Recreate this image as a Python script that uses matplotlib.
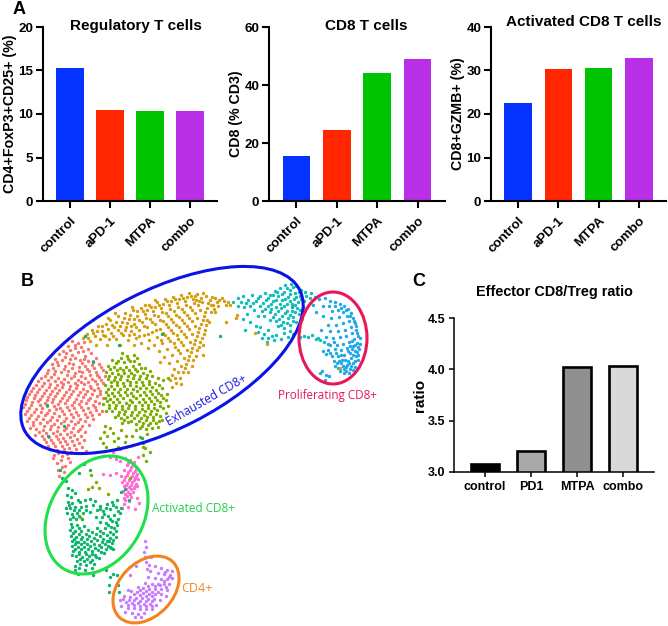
import matplotlib
matplotlib.use('Agg')
import matplotlib.pyplot as plt
from matplotlib.patches import Ellipse

W, H = 668, 626
plt.rcParams['font.family'] = ['Liberation Sans', 'DejaVu Sans']

# -------------------------
# DATA
# -------------------------
GROUPS_A = ['control', 'aPD-1', 'MTPA', 'combo']
GROUPS_C = ['control', 'PD1', 'MTPA', 'combo']
TREG = [15.3, 10.5, 10.4, 10.4]
CD8 = [15.4, 24.5, 44.0, 49.0]
ACTIVATED = [22.6, 30.3, 30.6, 32.8]
RATIO = [3.08, 3.20, 4.02, 4.03]

# scatter points (embedding units = reference pixels)
SALMON = [(72,341),(78,343),(84,342),(68,346),(75,348),(81,347),(88,349),(63,351),(59,354),(66,353),(72,355),(78,352),
    (85,356),(91,353),(96,358),(70,359),(80,360),(62,360),(55,359),(88,361),(52,364),(58,365),(65,366),(73,364),(79,367),
    (85,366),(92,365),(99,364),(48,370),(55,371),(61,372),(68,371),(75,373),(82,372),(89,371),(96,372),(103,370),(45,376),
    (51,377),(58,378),(64,379),(71,378),(78,380),(85,378),(92,379),(99,377),(105,376),(38,381),(44,383),(50,384),(57,385),
    (63,384),(70,386),(77,385),(84,384),(90,386),(97,384),(103,383),(33,388),(39,389),(46,390),(52,391),(59,390),(66,392),
    (73,391),(80,392),(87,391),(94,390),(100,391),(29,394),(35,395),(42,396),(48,397),(55,396),(62,398),(69,397),(76,399),
    (83,397),(90,398),(97,396),(103,398),(26,400),(32,402),(38,401),(45,403),(52,402),(58,404),(65,403),(72,405),(79,404),
    (86,403),(93,405),(99,403),(23,407),(29,408),(36,409),(42,408),(49,410),(56,409),(62,411),(69,410),(76,412),(83,410),
    (90,412),(96,410),(102,411),(25,414),(31,415),(38,416),(45,415),(52,417),(59,416),(66,418),(73,417),(80,419),(87,417),
    (93,419),(27,421),(33,422),(40,423),(47,422),(54,424),(61,423),(68,425),(75,424),(82,426),(89,425),(30,428),(36,429),
    (43,430),(50,429),(57,431),(64,430),(71,432),(78,431),(85,432),(35,435),(42,436),(49,437),(56,436),(63,438),(70,437),
    (77,439),(84,440),(46,442),(53,443),(60,442),(67,444),(74,445),(82,447),(50,449),(57,450),(64,449),(71,452),(78,453),
    (54,455),(62,456),(68,458),(86,451),(53,458),(57,463),(62,467),(58,470),(65,466),(70,462),(61,460),(59,476),(64,472)]
SALMON_2 = [(75,345),(70,350),(83,351),(65,357),(75,358),(84,359),(93,361),(57,362),(69,363),(82,363),(53,368),(64,369),
    (72,368),(79,371),(87,369),(94,368),(101,367),(47,373),(54,374),(67,375),(74,376),(81,376),(90,375),(97,375),(41,378),
    (48,380),(55,381),(61,382),(68,382),(75,383),(81,382),(88,382),(95,381),(101,380),(36,385),(42,386),(49,387),(55,388),
    (62,387),(69,389),(76,388),(83,389),(91,388),(98,388),(31,391),(37,392),(44,393),(50,394),(57,393),(64,395),(71,394),
    (78,395),(85,394),(92,394),(100,394),(27,397),(34,398),(40,399),(47,400),(53,399),(60,401),(67,400),(74,402),(81,401),
    (88,400),(95,401),(25,404),(31,405),(40,405),(47,406),(54,406),(60,408),(67,407),(74,408),(81,407),(88,408),(95,407),
    (27,411),(34,412),(41,412),(47,413),(54,413),(64,414),(71,414),(78,415),(85,414),(92,415),(99,414),(29,418),(36,419),
    (43,419),(50,420),(57,420),(64,421),(71,421),(78,422),(85,421),(33,425),(44,426),(51,426),(58,427),(66,428),(73,428),
    (80,429),(39,432),(46,433),(53,433),(60,434),(67,434),(74,435),(81,436),(44,439),(51,440),(58,439),(65,441),(72,441),
    (79,443),(48,446),(55,446),(62,446),(69,448),(76,449),(67,454),(58,453)]
GOLD = [(83,338),(87,334),(92,330),(95,336),(90,341),(98,326),(102,331),(106,324),(100,339),(96,345),(105,336),(110,320),
    (114,327),(111,333),(118,316),(122,322),(118,330),(107,345),(125,313),(129,319),(126,327),(123,335),(116,339),(133,310),
    (137,316),(134,324),(131,331),(128,340),(141,308),(145,314),(142,322),(139,330),(136,338),(149,305),(153,311),(150,319),
    (147,327),(144,335),(141,343),(157,302),(161,308),(158,316),(155,324),(152,332),(149,340),(165,299),(169,305),(166,313),
    (163,321),(160,329),(157,337),(154,345),(173,297),(177,303),(174,311),(171,319),(168,327),(165,335),(162,343),(159,351),
    (181,295),(185,301),(182,309),(179,317),(176,325),(173,333),(170,341),(167,349),(164,357),(189,293),(193,299),(190,307),
    (187,315),(184,323),(181,331),(178,339),(175,347),(172,355),(169,363),(197,294),(201,298),(198,305),(195,313),(192,321),
    (189,329),(186,337),(183,345),(180,353),(177,361),(174,369),(206,296),(210,300),(207,308),(204,316),(201,324),(198,332),
    (195,340),(192,348),(189,356),(186,364),(183,372),(180,378),(176,383),(172,387),(215,298),(219,300),(224,301),(228,302),
    (213,305),(218,306),(211,312),(207,320),(205,330),(202,338),(199,347),(196,356),(192,366),(188,372),(203,345),(209,322),
    (215,312),(226,322),(236,318),(230,305),(120,345),(134,345),(148,348),(160,362),(172,375),(203,355)]
GOLD_2 = [(88,338),(93,333),(97,331),(102,326),(103,335),(108,329),(112,325),(109,339),(113,336),(116,322),(120,326),(124,318),
    (127,323),(121,333),(125,330),(130,315),(134,319),(131,326),(129,335),(137,311),(139,320),(136,327),(134,334),(143,311),
    (147,310),(146,318),(144,326),(139,336),(151,307),(155,307),(154,315),(152,322),(148,334),(159,305),(163,304),(162,312),
    (160,320),(156,330),(167,301),(171,301),(170,309),(168,316),(166,324),(163,333),(161,340),(175,299),(179,299),(178,307),
    (176,315),(173,322),(171,330),(168,338),(183,298),(187,297),(186,305),(184,312),(182,320),(179,327),(177,335),(174,343),
    (191,296),(195,296),(194,303),(192,310),(189,318),(187,326),(184,334),(181,342),(178,350),(199,301),(203,293),(202,302),
    (200,310),(197,318),(195,326),(192,334),(190,342),(187,350),(184,358),(181,366),(208,303),(212,297),(211,305),(205,312),
    (203,320),(199,328),(197,336),(194,344),(191,352),(188,360),(185,368),(178,372),(217,302),(222,298),(226,305),(214,309),
    (206,325),(204,334),(200,342),(197,350),(193,360),(175,378),(181,384),(170,380),(196,300),(155,300),(145,305),(132,307),
    (115,313),(108,318)]
OLIVE = [(122,353),(127,356),(134,355),(112,360),(118,361),(124,362),(130,361),(137,358),(108,366),(114,367),(120,368),
    (126,367),(133,366),(139,364),(145,368),(106,372),(112,373),(118,374),(124,373),(131,373),(137,371),(143,373),(150,371),
    (108,379),(114,380),(120,379),(127,380),(133,378),(139,379),(146,378),(152,376),(158,378),(105,385),(111,386),(117,385),
    (124,386),(130,385),(136,386),(143,385),(149,384),(155,383),(163,380),(168,378),(106,392),(112,393),(118,392),(125,392),
    (131,393),(137,391),(144,392),(150,391),(156,390),(162,388),(105,398),(110,399),(117,399),(123,398),(130,400),(136,398),
    (143,399),(149,398),(155,397),(161,395),(167,394),(103,404),(109,405),(116,405),(122,406),(129,405),(135,406),(142,405),
    (148,405),(154,404),(160,402),(166,400),(106,411),(112,411),(119,412),(125,411),(132,412),(139,412),(145,411),(151,411),
    (157,410),(163,408),(168,406),(115,417),(121,418),(127,417),(134,418),(141,418),(147,417),(153,417),(160,416),(166,413),
    (122,423),(128,422),(136,424),(143,423),(150,423),(156,423),(162,420),(146,429),(152,428),(158,427),(140,428),(136,430),
    (105,426),(110,428),(104,432),(100,438),(107,436),(113,433),(118,438),(121,430),(126,436),(140,437),(147,434),(143,443),
    (103,443),(106,447),(118,447),(114,441),(132,436),(145,448),(150,452),(143,455),(146,461),(125,442)]
OLIVE_2 = [(116,363),(121,358),(128,359),(134,361),(110,369),(117,370),(123,370),(129,370),(135,369),(141,368),(109,376),
    (115,377),(121,376),(128,376),(134,375),(140,376),(147,375),(111,382),(117,382),(123,383),(130,382),(136,382),(142,382),
    (149,381),(108,389),(114,389),(120,389),(127,389),(133,389),(140,388),(146,388),(152,387),(159,385),(108,395),(114,396),
    (120,395),(127,395),(133,396),(140,395),(146,395),(152,394),(158,393),(107,401),(113,402),(119,402),(126,403),(132,402),
    (139,402),(145,402),(151,401),(157,400),(163,398),(109,408),(115,408),(122,409),(128,408),(135,409),(142,409),(148,408),
    (154,408),(160,406),(118,415),(124,414),(131,415),(137,415),(144,415),(150,414),(156,414),(124,420),(131,421),(139,421),
    (146,420),(153,420),(159,421),(148,425),(142,426)]
TEAL = [(233,302),(238,298),(243,296),(248,300),(252,295),(238,306),(244,307),(250,306),(256,301),(260,296),(265,293),
    (254,310),(247,314),(243,319),(260,306),(266,300),(270,295),(275,291),(280,288),(285,285),(291,284),(296,286),(262,311),
    (268,306),(273,301),(278,296),(284,292),(290,290),(295,293),(301,290),(305,292),(258,316),(264,316),(270,312),(276,307),
    (282,300),(288,297),(294,299),(300,296),(306,296),(311,293),(275,314),(281,308),(287,304),(292,304),(298,302),(304,301),
    (310,298),(315,297),(270,320),(276,321),(282,316),(287,311),(292,311),(297,308),(303,307),(283,322),(288,318),(293,317),
    (299,314),(278,326),(284,328),(290,325),(296,322),(302,319),(260,327),(268,330),(258,332),(262,338),(268,338),(274,340),
    (281,339),(288,337),(293,334),(299,331),(304,336),(308,337),(312,335),(316,339),(320,340),(250,322),(245,330),(267,342),
    (272,336),(256,326),(318,338),(300,337),(324,342)]
TEAL_2 = [(241,302),(246,303),(253,303),(258,298),(263,303),(268,298),(273,295),(277,292),(282,294),(287,288),(293,287),
    (299,292),(271,304),(276,300),(280,304),(285,299),(290,294),(296,297),(265,309),(271,309),(278,311),(284,306),(290,301),
    (295,305),(301,299),(273,317),(279,319),(285,313),(290,315),(295,312),(300,310),(281,325),(287,323),(293,321),(284,333),
    (290,331),(276,335),(264,334)]
BLUE = [(313,305),(319,299),(325,298),(330,301),(316,312),(323,306),(329,306),(335,302),(340,304),(344,306),(338,310),
    (332,311),(348,309),(343,312),(351,313),(347,316),(339,317),(331,318),(323,316),(353,318),(349,321),(343,323),(336,325),
    (328,325),(355,323),(351,327),(345,330),(338,331),(330,331),(321,330),(356,330),(352,333),(346,336),(340,337),(333,338),
    (326,337),(358,336),(354,339),(349,342),(343,344),(337,345),(330,345),(357,343),(353,346),(347,348),(341,350),(335,349),
    (328,350),(323,351),(359,349),(355,351),(350,353),(344,355),(338,356),(332,356),(326,354),(356,356),(351,358),(345,360),
    (339,361),(334,361),(358,360),(353,363),(347,365),(341,363),(335,366),(355,367),(350,369),(344,369),(338,368),(349,373),
    (344,373),(351,366),(346,371),(322,371),(326,375),(320,373),(325,380),(329,376),(342,360),(352,349),(360,344),(357,352)]
BLUE_2 = [(335,306),(341,308),(346,310),(350,316),(354,321),(356,326),(357,333),(360,338),(355,345),(358,347),(350,346),
    (353,355),(348,361),(343,366),(337,363),(341,355),(348,351),(352,341),(358,355),(355,361),(349,363),(346,367),(340,371),
    (353,370),(336,353),(330,353),(328,344),(334,342)]
MAGENTA = [(110,457),(113,452),(120,449),(126,447),(132,445),(116,459),(120,461),(125,458),(130,460),(134,462),(127,465),
    (131,467),(136,468),(124,470),(128,472),(133,473),(137,474),(121,476),(125,477),(130,478),(135,478),(138,479),(122,482),
    (127,483),(132,482),(136,484),(124,486),(129,487),(134,488),(137,486),(123,491),(128,492),(133,492),(127,496),(131,497),
    (125,500),(129,501),(124,504),(128,507),(122,508),(137,498),(139,503),(135,509),(110,475),(103,474),(116,473),(138,457)]
MAGENTA_2 = [(128,463),(133,465),(130,470),(135,471),(127,475),(132,476),(136,476),(124,480),(129,480),(134,480),(126,485),
    (131,485),(135,486),(126,489),(131,489),(125,494),(130,494),(124,498)]
GREEN = [(66,481),(68,488),(72,490),(75,493),(67,495),(71,497),(78,500),(68,502),(72,503),(80,502),(85,500),(90,499),(95,501),
    (66,508),(70,508),(75,507),(81,507),(86,506),(93,505),(100,506),(107,504),(112,502),(67,513),(72,514),(77,513),(83,513),
    (90,512),(97,510),(103,511),(110,509),(116,507),(121,508),(70,519),(76,519),(82,519),(96,517),(102,517),(108,516),(114,515),
    (120,513),(71,524),(77,525),(84,526),(100,522),(106,523),(112,521),(118,519),(70,530),(75,531),(81,531),(88,530),(97,528),
    (105,528),(111,527),(117,525),(71,536),(76,537),(82,537),(89,536),(96,534),(103,533),(110,532),(116,531),(72,541),(78,542),
    (84,542),(91,541),(97,540),(103,539),(110,538),(116,537),(72,546),(78,547),(84,547),(90,546),(99,545),(105,544),(112,543),
    (73,551),(79,552),(85,552),(92,551),(98,550),(106,549),(111,548),(76,556),(82,557),(89,556),(95,555),(104,553),(110,547),
    (77,561),(84,561),(92,560),(99,558),(86,565),(94,564),(75,566),(79,568),(85,570),(92,568),(75,570),(88,573),(106,570),
    (93,575),(78,574),(60,470),(62,478),(84,464),(79,473),(90,470),(117,500),(121,492),(125,489),(110,577),(117,575),(109,585),
    (118,585),(119,592),(109,592),(113,574)]
GREEN_2 = [(69,505),(74,510),(79,510),(86,510),(100,509),(106,508),(113,505),(118,511),(73,517),(79,516),(104,514),(110,519),
    (116,522),(72,527),(79,528),(108,525),(114,528),(73,533),(79,534),(86,534),(92,532),(100,531),(107,535),(113,534),(74,539),
    (81,539),(87,539),(94,538),(100,536),(107,541),(113,540),(75,544),(81,544),(87,544),(94,544),(102,542),(109,541),(75,549),
    (81,549),(88,549),(95,548),(101,547),(108,546),(79,554),(86,554),(92,554),(101,552),(80,559),(87,559),(96,557),(80,564),
    (90,562),(72,555),(76,542),(113,549)]
PURPLE = [(145,541),(146,547),(144,552),(145,557),(146,562),(149,565),(147,569),(155,566),(161,568),(167,570),(172,571),
    (150,571),(158,573),(164,574),(170,575),(148,577),(155,578),(161,579),(167,579),(172,578),(145,583),(152,584),(158,584),
    (164,584),(169,584),(138,587),(143,588),(149,589),(155,589),(161,589),(167,590),(131,591),(137,592),(143,593),(149,594),
    (155,594),(161,594),(166,596),(124,596),(130,597),(136,598),(142,598),(148,599),(154,599),(160,600),(120,600),(126,602),
    (132,603),(138,603),(144,604),(150,604),(156,605),(121,606),(128,608),(134,608),(140,609),(146,609),(152,609),(132,613),
    (138,614),(144,613),(135,617),(141,617),(125,612),(136,566),(128,590),(130,575),(151,557)]
PURPLE_2 = [(165,572),(169,577),(164,581),(160,585),(166,587),(158,592),(152,592),(146,591),(140,590),(148,586),(155,586),
    (152,596),(146,596),(140,595),(134,594),(134,600),(140,601),(146,601),(152,601),(129,600),(123,599),(128,605),(134,605),
    (140,606),(146,606),(152,606)]
# strays seen across the map
STRAY_GREEN = [(85,336),(119,345),(93,362),(47,405),(48,436),(64,426),(220,336),(292,307),(162,334),(142,438),(129,500)]
STRAY_GOLD = [(237,315),(255,333),(267,344),(340,368)]
STRAY_OLIVE = [(91,475),(96,482),(88,489),(92,487),(99,488),(108,494),(80,517),(116,449),(143,447),(130,478)]

CLUSTERS = [(SALMON + SALMON_2, '#f8766d'), (GOLD + GOLD_2, '#d39e10'), (OLIVE + OLIVE_2, '#7cae00'),
    (TEAL + TEAL_2, '#12bdb9'), (BLUE + BLUE_2, '#1fa8ec'), (MAGENTA + MAGENTA_2, '#ff6ad5'),
    (GREEN + GREEN_2, '#0cb46c'), (PURPLE + PURPLE_2, '#c77cff'),
    (STRAY_GREEN, '#0cb46c'), (STRAY_GOLD, '#d39e10'), (STRAY_OLIVE, '#7cae00')]

# -------------------------
# HELPERS
# -------------------------
def px_axes(fig, left, top, right, bottom):
    # axes placed by reference pixels (origin top left)
    return fig.add_axes([left / W, 1 - bottom / H, (right - left) / W, (bottom - top) / H])


def bar_panel(fig, box, values, ymax, step, ylabel, title, title_x, title_y):
    ax = px_axes(fig, *box)
    ax.bar(range(4), values, width=0.68, color=['#0433ff', '#ff2600', '#00c400', '#b92fe6'])
    ax.set_xlim(-0.675, 3.675)
    ax.set_ylim(0, ymax)
    ax.set_yticks(range(0, ymax + 1, step))
    ax.set_xticks(range(4))
    ax.set_xticklabels(GROUPS_A, rotation=45, ha='right', rotation_mode='anchor')
    ax.set_ylabel(ylabel, fontsize=10.2, fontweight='bold', labelpad=1)
    for s in ['top', 'right']:
        ax.spines[s].set_visible(False)
    for s in ['left', 'bottom']:
        ax.spines[s].set_linewidth(1.5)
    ax.tick_params(width=1.5, length=5, labelsize=9.6, pad=2)
    ax.tick_params(axis='x', pad=5)
    for lab in ax.get_xticklabels() + ax.get_yticklabels():
        lab.set_fontweight('bold')
    fig.text(title_x / W, 1 - title_y / H, title, fontsize=11, fontweight='bold',
             ha='center', va='center')
    return ax


# -------------------------
# FIGURE
# -------------------------
fig = plt.figure(figsize=(W / 100, H / 100), dpi=100)

bar_panel(fig, (43, 27, 217, 201), TREG, 20, 5, 'CD4+FoxP3+CD25+ (%)', 'Regulatory T cells', 136, 26)
bar_panel(fig, (269, 27, 445, 201), CD8, 60, 20, 'CD8 (% CD3)', 'CD8 T cells', 366, 26)
bar_panel(fig, (491, 27, 666, 201), ACTIVATED, 40, 10, 'CD8+GZMB+ (%)', 'Activated CD8 T cells', 584, 22)

# panel C
ax = px_axes(fig, 454, 318, 654, 472)
ax.bar(range(4), RATIO, width=0.62, color=['#000000', '#a9a9a9', '#8f8f8f', '#d9d9d9'],
       edgecolor='black', linewidth=1.9)
ax.set_xlim(-0.674, 3.674)
ax.set_ylim(3.0, 4.5)
ax.set_yticks([3.0, 3.5, 4.0, 4.5])
ax.set_xticks(range(4))
ax.set_xticklabels(GROUPS_C)
ax.set_ylabel('ratio', fontsize=11, fontweight='bold', labelpad=0)
for s in ['top', 'right']:
    ax.spines[s].set_visible(False)
for s in ['left', 'bottom']:
    ax.spines[s].set_linewidth(1.1)
ax.tick_params(width=1.1, length=3.5, labelsize=9, pad=3)
for lab in ax.get_xticklabels() + ax.get_yticklabels():
    lab.set_fontweight('bold')
fig.text(554 / W, 1 - 292 / H, 'Effector CD8/Treg ratio', fontsize=10.4, fontweight='bold', ha='center', va='center')

# panel B, map drawn on a full-figure overlay
ov = fig.add_axes([0, 0, 1, 1])
ov.set_xlim(0, W)
ov.set_ylim(H, 0)
ov.axis('off')
ov.patch.set_alpha(0)
for pts, col in CLUSTERS:
    ov.scatter([p[0] for p in pts], [p[1] for p in pts], s=6, color=col, linewidths=0)

for cx, cy, w, h, ang, col in [(162, 360, 309, 139, -27, '#0a14e6'), (333, 338, 68, 92, 0, '#e8175d'),
                               (96.5, 515, 126, 93, -58.7, '#1fe04a'), (146, 589.5, 77, 54, -46, '#f58220')]:
    ov.add_patch(Ellipse((cx, cy), w, h, angle=ang, fill=False, edgecolor=col, linewidth=2.2))

lab_font = ['Open Sans', 'DejaVu Sans']
ov.text(207, 400, 'Exhausted CD8+', color='#1a1ae0', fontsize=8.6, rotation=30, ha='center', va='center', family=lab_font)
ov.text(328, 395, 'Proliferating CD8+', color='#e8175d', fontsize=8.4, ha='center', va='center', family=lab_font)
ov.text(193, 508, 'Activated CD8+', color='#1fd04a', fontsize=8.5, ha='center', va='center', family=lab_font)
ov.text(197, 589, 'CD4+', color='#f58220', fontsize=9, ha='center', va='center', family=lab_font)

for letter, x, y in [('A', 19, 9), ('B', 27, 281), ('C', 419, 282)]:
    ov.text(x, y, letter, fontsize=13, fontweight='bold', ha='center', va='center')

fig.savefig('out.png', dpi=100)
